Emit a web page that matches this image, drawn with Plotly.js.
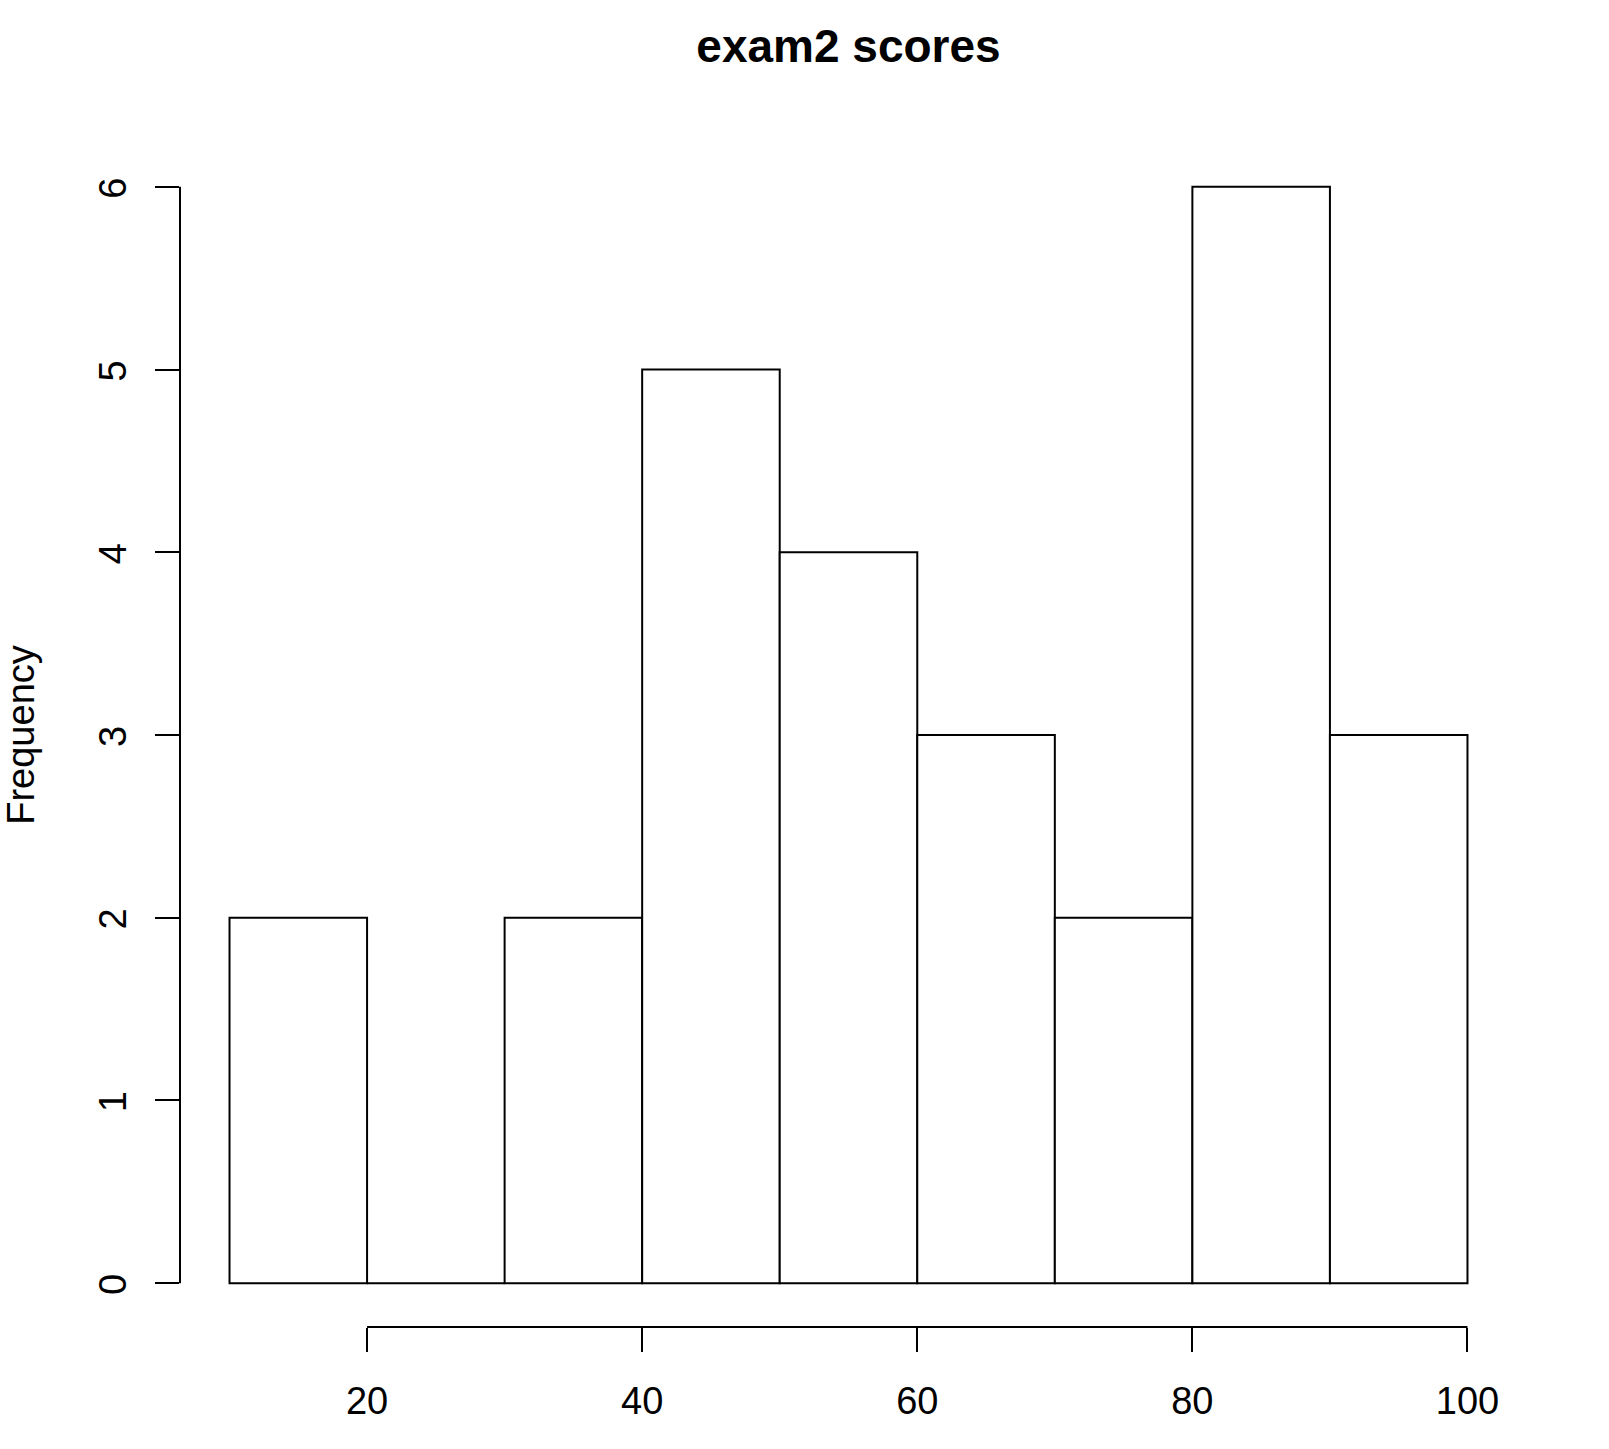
<!DOCTYPE html>
<html>
<head>
<meta charset="utf-8">
<script src="https://cdn.plot.ly/plotly-3.0.1.min.js"></script>
<style>html,body{margin:0;padding:0;background:#fff;}#chart{width:1609px;height:1449px;}</style>
</head>
<body>
<div id="chart"></div>
<script>
// Histogram bins (score ranges) and counts
const binStarts = [10, 20, 30, 40, 50, 60, 70, 80, 90];
const binWidth = 10;
const counts = [2, 0, 2, 5, 4, 3, 2, 6, 3];
const xTicks = [20, 40, 60, 80, 100];
const yTicks = [0, 1, 2, 3, 4, 5, 6];
const titleText = "exam2 scores";
const yTitle = "Frequency";

const centers = binStarts.map(s => s + binWidth / 2);
const xMin = binStarts[0], xMax = binStarts[binStarts.length - 1] + binWidth;
const yMax = Math.max(...counts);
const xPad = (xMax - xMin) * 0.04, yPad = yMax * 0.04;

const font = "Liberation Sans, Arial, Helvetica, sans-serif";

const trace = {
  type: "bar",
  x: centers,
  y: counts,
  width: binWidth,
  marker: {color: "#ffffff", line: {color: "#000000", width: 2}},
  hoverinfo: "x+y"
};

const layout = {
  width: 1609, height: 1449,
  paper_bgcolor: "#fff", plot_bgcolor: "#fff",
  margin: {l: 180, r: 92, t: 143, b: 122},
  showlegend: false,
  bargap: 0,
  font: {family: font, color: "#000", size: 38},
  title: {text: titleText, font: {family: font, size: 46, weight: "bold", color: "#000"},
          x: 0.5, xref: "paper", y: 1 - 46/1449, yref: "container", yanchor: "middle"},
  xaxis: {
    range: [xMin - xPad, xMax + xPad], tickmode: "array", tickvals: xTicks,
    ticktext: xTicks.map(String), ticks: "outside", ticklen: 24, tickwidth: 2, tickcolor: "#000",
    showgrid: false, zeroline: false, showline: false, ticklabelstandoff: 16,
    tickfont: {family: font, size: 38, color: "#000"}
  },
  yaxis: {
    range: [-yPad, yMax + yPad], tickmode: "array", tickvals: yTicks,
    ticktext: yTicks.map(String), ticks: "outside", ticklen: 24, tickwidth: 2, tickcolor: "#000",
    showgrid: false, zeroline: false, showline: false, tickangle: -90, ticklabelstandoff: 14,
    ticklabelshift: 7,
    tickfont: {family: font, size: 38, color: "#000"},
    title: {text: yTitle, font: {family: font, size: 38, color: "#000"}, standoff: 46}
  },
  shapes: [
    {type: "line", xref: "x", yref: "paper", x0: xTicks[0], x1: xTicks[xTicks.length-1], y0: 0, y1: 0,
     line: {color: "#000", width: 2}},
    {type: "line", xref: "paper", yref: "y", x0: 0, x1: 0, y0: yTicks[0], y1: yTicks[yTicks.length-1],
     line: {color: "#000", width: 2}}
  ]
};

Plotly.newPlot("chart", [trace], layout, {displayModeBar: false, staticPlot: true});
</script>
</body>
</html>
